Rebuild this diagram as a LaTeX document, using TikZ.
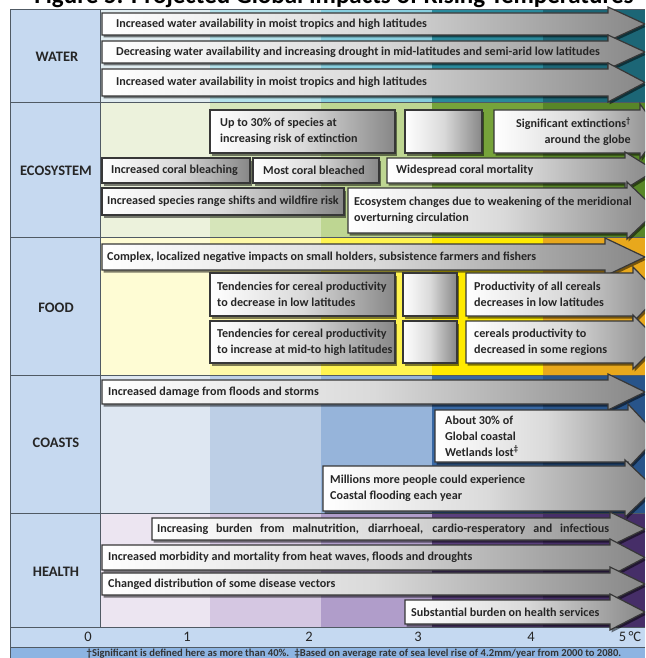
\documentclass[tikz,border=0pt]{standalone}
\usepackage{fontspec}
\setmainfont{Carlito}
\usepackage{tikz}
\usetikzlibrary{shadows}

\definecolor{rotuloazul}{RGB}{198,217,240}
\definecolor{eixoazul}{RGB}{197,217,241}
\definecolor{notaazul}{RGB}{141,180,226}
\definecolor{linhacor}{RGB}{80,90,100}
\definecolor{contorno}{RGB}{55,55,55}
\definecolor{cinzaseta}{RGB}{135,135,135}
\definecolor{cinzameio}{RGB}{218,218,218}
% faixas de temperatura por linha
\definecolor{fagua1}{RGB}{224,236,240}
\definecolor{fagua2}{RGB}{180,225,234}
\definecolor{fagua3}{RGB}{135,206,222}
\definecolor{fagua4}{RGB}{42,138,156}
\definecolor{fagua5}{RGB}{28,102,118}
\definecolor{feco1}{RGB}{236,242,220}
\definecolor{feco2}{RGB}{214,229,186}
\definecolor{feco3}{RGB}{190,214,146}
\definecolor{feco4}{RGB}{118,163,58}
\definecolor{feco5}{RGB}{88,134,40}
\definecolor{falim1}{RGB}{254,252,212}
\definecolor{falim2}{RGB}{253,248,168}
\definecolor{falim3}{RGB}{255,244,80}
\definecolor{falim4}{RGB}{255,234,0}
\definecolor{falim5}{RGB}{232,168,28}
\definecolor{fcost1}{RGB}{222,231,242}
\definecolor{fcost2}{RGB}{189,207,230}
\definecolor{fcost3}{RGB}{150,180,218}
\definecolor{fcost4}{RGB}{56,104,164}
\definecolor{fcost5}{RGB}{40,84,138}
\definecolor{fsaude1}{RGB}{236,229,241}
\definecolor{fsaude2}{RGB}{213,199,226}
\definecolor{fsaude3}{RGB}{176,157,202}
\definecolor{fsaude4}{RGB}{90,63,125}
\definecolor{fsaude5}{RGB}{70,46,104}

% seta larga: x esq, y topo, y base, x fim da haste, x ponta
\newcommand{\setaimpacto}[5]{%
  \path[corpo] (#1,#2) -- (#4,#2) -- (#4,{#2-6}) -- (#5,{(#2+#3)/2})
    -- (#4,{#3+6}) -- (#4,#3) -- (#1,#3) -- cycle;}

\begin{document}
\begin{tikzpicture}[
  x=1pt, y=-1pt,
  corpo/.style={draw=contorno, line width=1.2pt, left color=white,
                right color=cinzaseta, middle color=cinzameio,
                drop shadow={shadow xshift=1.5pt, shadow yshift=-2.5pt,
                             opacity=0.5, fill=black}},
  texto/.style={anchor=west, align=left, inner sep=0pt, text=black!85,
                font=\bfseries\fontsize{12.1}{16}\selectfont},
  rotulo/.style={font=\bfseries\fontsize{14.5}{17}\selectfont, text=black!85},
  escala/.style={font=\fontsize{14.5}{16}\selectfont, text=black!85},
  nota/.style={font=\bfseries\fontsize{10.6}{12}\selectfont, text=black!80},
  titulo/.style={font=\bfseries\fontsize{25}{28}\selectfont},
  linha/.style={draw=linhacor, line width=1pt}
]
\useasboundingbox (0,0) rectangle (645,658);
\clip (0,0) rectangle (645,658);

\node[titulo, anchor=base] (titulo) at (334,4) {Figure 5: Projected Global Impacts of Rising Temperatures};

% fundo
\fill[white] (0,8) rectangle (645,10);
\fill[rotuloazul] (10,10) rectangle (100,627);
\fill[fagua1] (100,10) rectangle (210,103); \fill[fagua2] (210,10) rectangle (321,103);
\fill[fagua3] (321,10) rectangle (432,103); \fill[fagua4] (432,10) rectangle (543,103);
\fill[fagua5] (543,10) rectangle (645,103);
\fill[feco1] (100,103) rectangle (210,237); \fill[feco2] (210,103) rectangle (321,237);
\fill[feco3] (321,103) rectangle (432,237); \fill[feco4] (432,103) rectangle (543,237);
\fill[feco5] (543,103) rectangle (645,237);
\fill[falim1] (100,237) rectangle (210,375); \fill[falim2] (210,237) rectangle (321,375);
\fill[falim3] (321,237) rectangle (432,375); \fill[falim4] (432,237) rectangle (543,375);
\fill[falim5] (543,237) rectangle (645,375);
\fill[fcost1] (100,375) rectangle (210,513); \fill[fcost2] (210,375) rectangle (321,513);
\fill[fcost3] (321,375) rectangle (432,513); \fill[fcost4] (432,375) rectangle (543,513);
\fill[fcost5] (543,375) rectangle (645,513);
\fill[fsaude1] (100,513) rectangle (210,627); \fill[fsaude2] (210,513) rectangle (321,627);
\fill[fsaude3] (321,513) rectangle (432,627); \fill[fsaude4] (432,513) rectangle (543,627);
\fill[fsaude5] (543,513) rectangle (645,627);
\fill[eixoazul] (10,627) rectangle (645,647);
\fill[notaazul] (10,647) rectangle (645,658);

\draw[linha] (10,10) -- (645,10) (10,103) -- (645,103) (10,237) -- (645,237)
  (10,375) -- (645,375) (10,513) -- (645,513) (10,627) -- (645,627) (10,647) -- (645,647);
\draw[linha] (10,10) -- (10,658) (100,10) -- (100,627);

\node[rotulo] (agua)        at (57,57)  {WATER};
\node[rotulo] (ecossistema) at (56,171) {ECOSYSTEM};
\node[rotulo] (alimento)    at (56,308) {FOOD};
\node[rotulo] (costas)      at (56,443) {COASTS};
\node[rotulo] (saude)       at (56,572) {HEALTH};

% agua
\setaimpacto{102}{13}{35}{608}{645}
\node[texto] (agua1) at (116,24) {Increased water availability in moist tropics and high latitudes};
\setaimpacto{102}{41}{63}{608}{645}
\node[texto] (agua2) at (116,52) {Decreasing water availability and increasing drought in mid-latitudes and semi-arid low latitudes};
\setaimpacto{102}{69}{96}{608}{645}
\node[texto] (agua3) at (116,82.5) {Increased water availability in moist tropics and high latitudes};

% ecossistema
\path[corpo] (210,110) rectangle (395,153);
\node[texto] (especies) at (220,131.5) {Up to 30\% of species at\\increasing risk of extinction};
\path[corpo] (405,110) rectangle (482,153);
\setaimpacto{494}{110}{153}{640}{660}
\node[texto, anchor=east, align=right] (extincoes) at (631,131.5) {Significant extinctions\textsuperscript{\textdagger}\\around the globe};
\path[corpo] (102,158) rectangle (250,183);
\node[texto] (coral1) at (111,170.5) {Increased coral bleaching};
\path[corpo] (253,158) rectangle (379,183);
\node[texto] (coral2) at (263,170.5) {Most coral bleached};
\setaimpacto{387}{158}{183}{625}{655}
\node[texto] (coral3) at (396,170.5) {Widespread coral mortality};
\path[corpo] (102,188) rectangle (344,215);
\node[texto] (alcance) at (107,201.5) {Increased species range shifts and wildfire risk};
\setaimpacto{348}{188}{233}{627}{657}
\node[texto] (circulacao) at (354,210.5) {Ecosystem changes due to weakening of the meridional\\overturning circulation};

% alimento
\setaimpacto{102}{244}{270}{605}{645}
\node[texto] (pequenos) at (107,257) {Complex, localized negative impacts on small holders, subsistence farmers and fishers};
\path[corpo] (210,273) rectangle (395,316);
\node[texto] (cereal1) at (217,294.5) {Tendencies for cereal productivity\\to decrease in low latitudes};
\path[corpo] (403,273) rectangle (457,316);
\setaimpacto{466}{273}{316}{633}{660}
\node[texto] (cereal2) at (474,294.5) {Productivity of all cereals\\decreases in low latitudes};
\path[corpo] (210,321) rectangle (395,363);
\node[texto] (cereal3) at (217,342) {Tendencies for cereal productivity\\to increase at mid-to high latitudes};
\path[corpo] (403,321) rectangle (457,363);
\setaimpacto{466}{321}{363}{633}{660}
\node[texto] (cereal4) at (474,342) {cereals productivity to\\decreased in some regions};

% costas
\setaimpacto{102}{380}{404}{608}{645}
\node[texto] (enchentes) at (108,392) {Increased damage from floods and storms};
\setaimpacto{435}{410}{462}{628}{658}
\node[texto] (zonasumidas) at (445,436) {About 30\% of\\Global coastal\\Wetlands lost\textsuperscript{\textdaggerdbl}};
\setaimpacto{323}{466}{511}{625}{655}
\node[texto] (inundacao) at (330,488.5) {Millions more people could experience\\Coastal flooding each year};

% saude
\setaimpacto{152}{518}{540}{610}{645}
\node[texto] (desnutricao) at (157,529) {\makebox[452pt][s]{Increasing burden from malnutrition, diarrhoeal, cardio-resperatory and infectious}};
\setaimpacto{102}{545}{570}{610}{645}
\node[texto] (calor) at (108,557.5) {Increased morbidity and mortality from heat waves, floods and droughts};
\setaimpacto{102}{573}{595}{610}{645}
\node[texto] (vetores) at (108,584) {Changed distribution of some disease vectors};
\setaimpacto{405}{600}{624}{610}{645}
\node[texto] (servicos) at (411,612) {Substantial burden on health services};

% escala
\node[escala] (t0) at (88,637)  {0};
\node[escala] (t1) at (187,637) {1};
\node[escala] (t2) at (309,637) {2};
\node[escala] (t3) at (418,637) {3};
\node[escala] (t4) at (531,637) {4};
\node[escala] (t5) at (630,637) {5\,°C};

\node[nota, anchor=base] (rodape) at (354,656.5) {\textdagger Significant is defined here as more than 40\%.\enspace\textdaggerdbl Based on average rate of sea level rise of 4.2mm/year from 2000 to 2080.};

\end{tikzpicture}
\end{document}
